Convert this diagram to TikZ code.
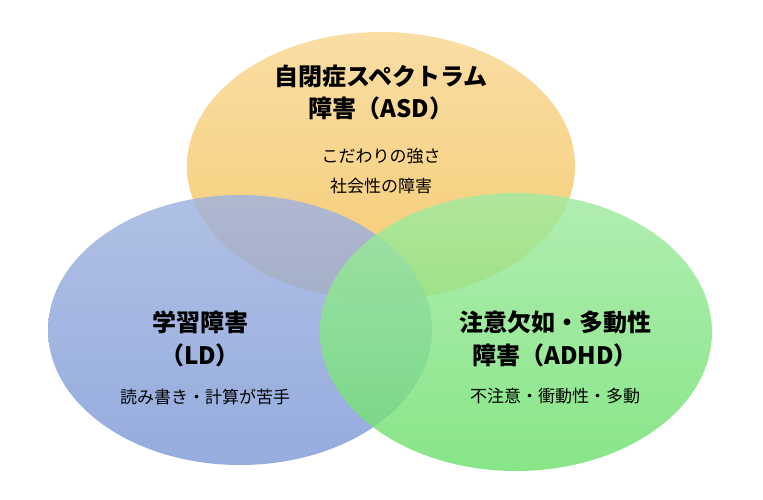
\documentclass[tikz,border=0pt]{standalone}
\usepackage{fontspec}
\setmainfont{Noto Sans CJK JP}
\begin{document}
\begin{tikzpicture}[x=1pt,y=-1pt,
  circ/.style={fill opacity=0.82,draw=none},
  ttl/.style={font=\fontsize{24}{27}\selectfont\bfseries,align=center,inner sep=0},
  sub/.style={font=\fontsize{17}{20}\selectfont,inner sep=0}]
\useasboundingbox (0,0) rectangle (763,499);
\fill[white] (0,0) rectangle (763,499);
\definecolor{cy}{HTML}{F5C155}
\definecolor{cb}{HTML}{7F9AD6}
\definecolor{cg}{HTML}{6EE06E}
\shade[circ,top color=cy!65!white,bottom color=cy] (381,166) ellipse [x radius=194,y radius=134];
\shade[circ,top color=cb!75!white,bottom color=cb] (240,330) ellipse [x radius=192,y radius=135];
\shade[circ,top color=cg!65!white,bottom color=cg] (516,332) ellipse [x radius=196,y radius=139];
\node[ttl] (t1) at (381,76) {自閉症スペクトラム};
\node[ttl] (t2) at (381,108) {障害（ASD）};
\node[sub] (t3) at (381,156) {こだわりの強さ};
\node[sub] (t4) at (381,186) {社会性の障害};
\node[ttl] (l1) at (200,322) {学習障害};
\node[ttl] (l2) at (200,355) {（LD）};
\node[sub] (l3) at (205,397) {読み書き・計算が苦手};
\node[ttl] (r1) at (555,322) {注意欠如・多動性};
\node[ttl] (r2) at (555,355) {障害（ADHD）};
\node[sub] (r3) at (555,396) {不注意・衝動性・多動};
\end{tikzpicture}
\end{document}
